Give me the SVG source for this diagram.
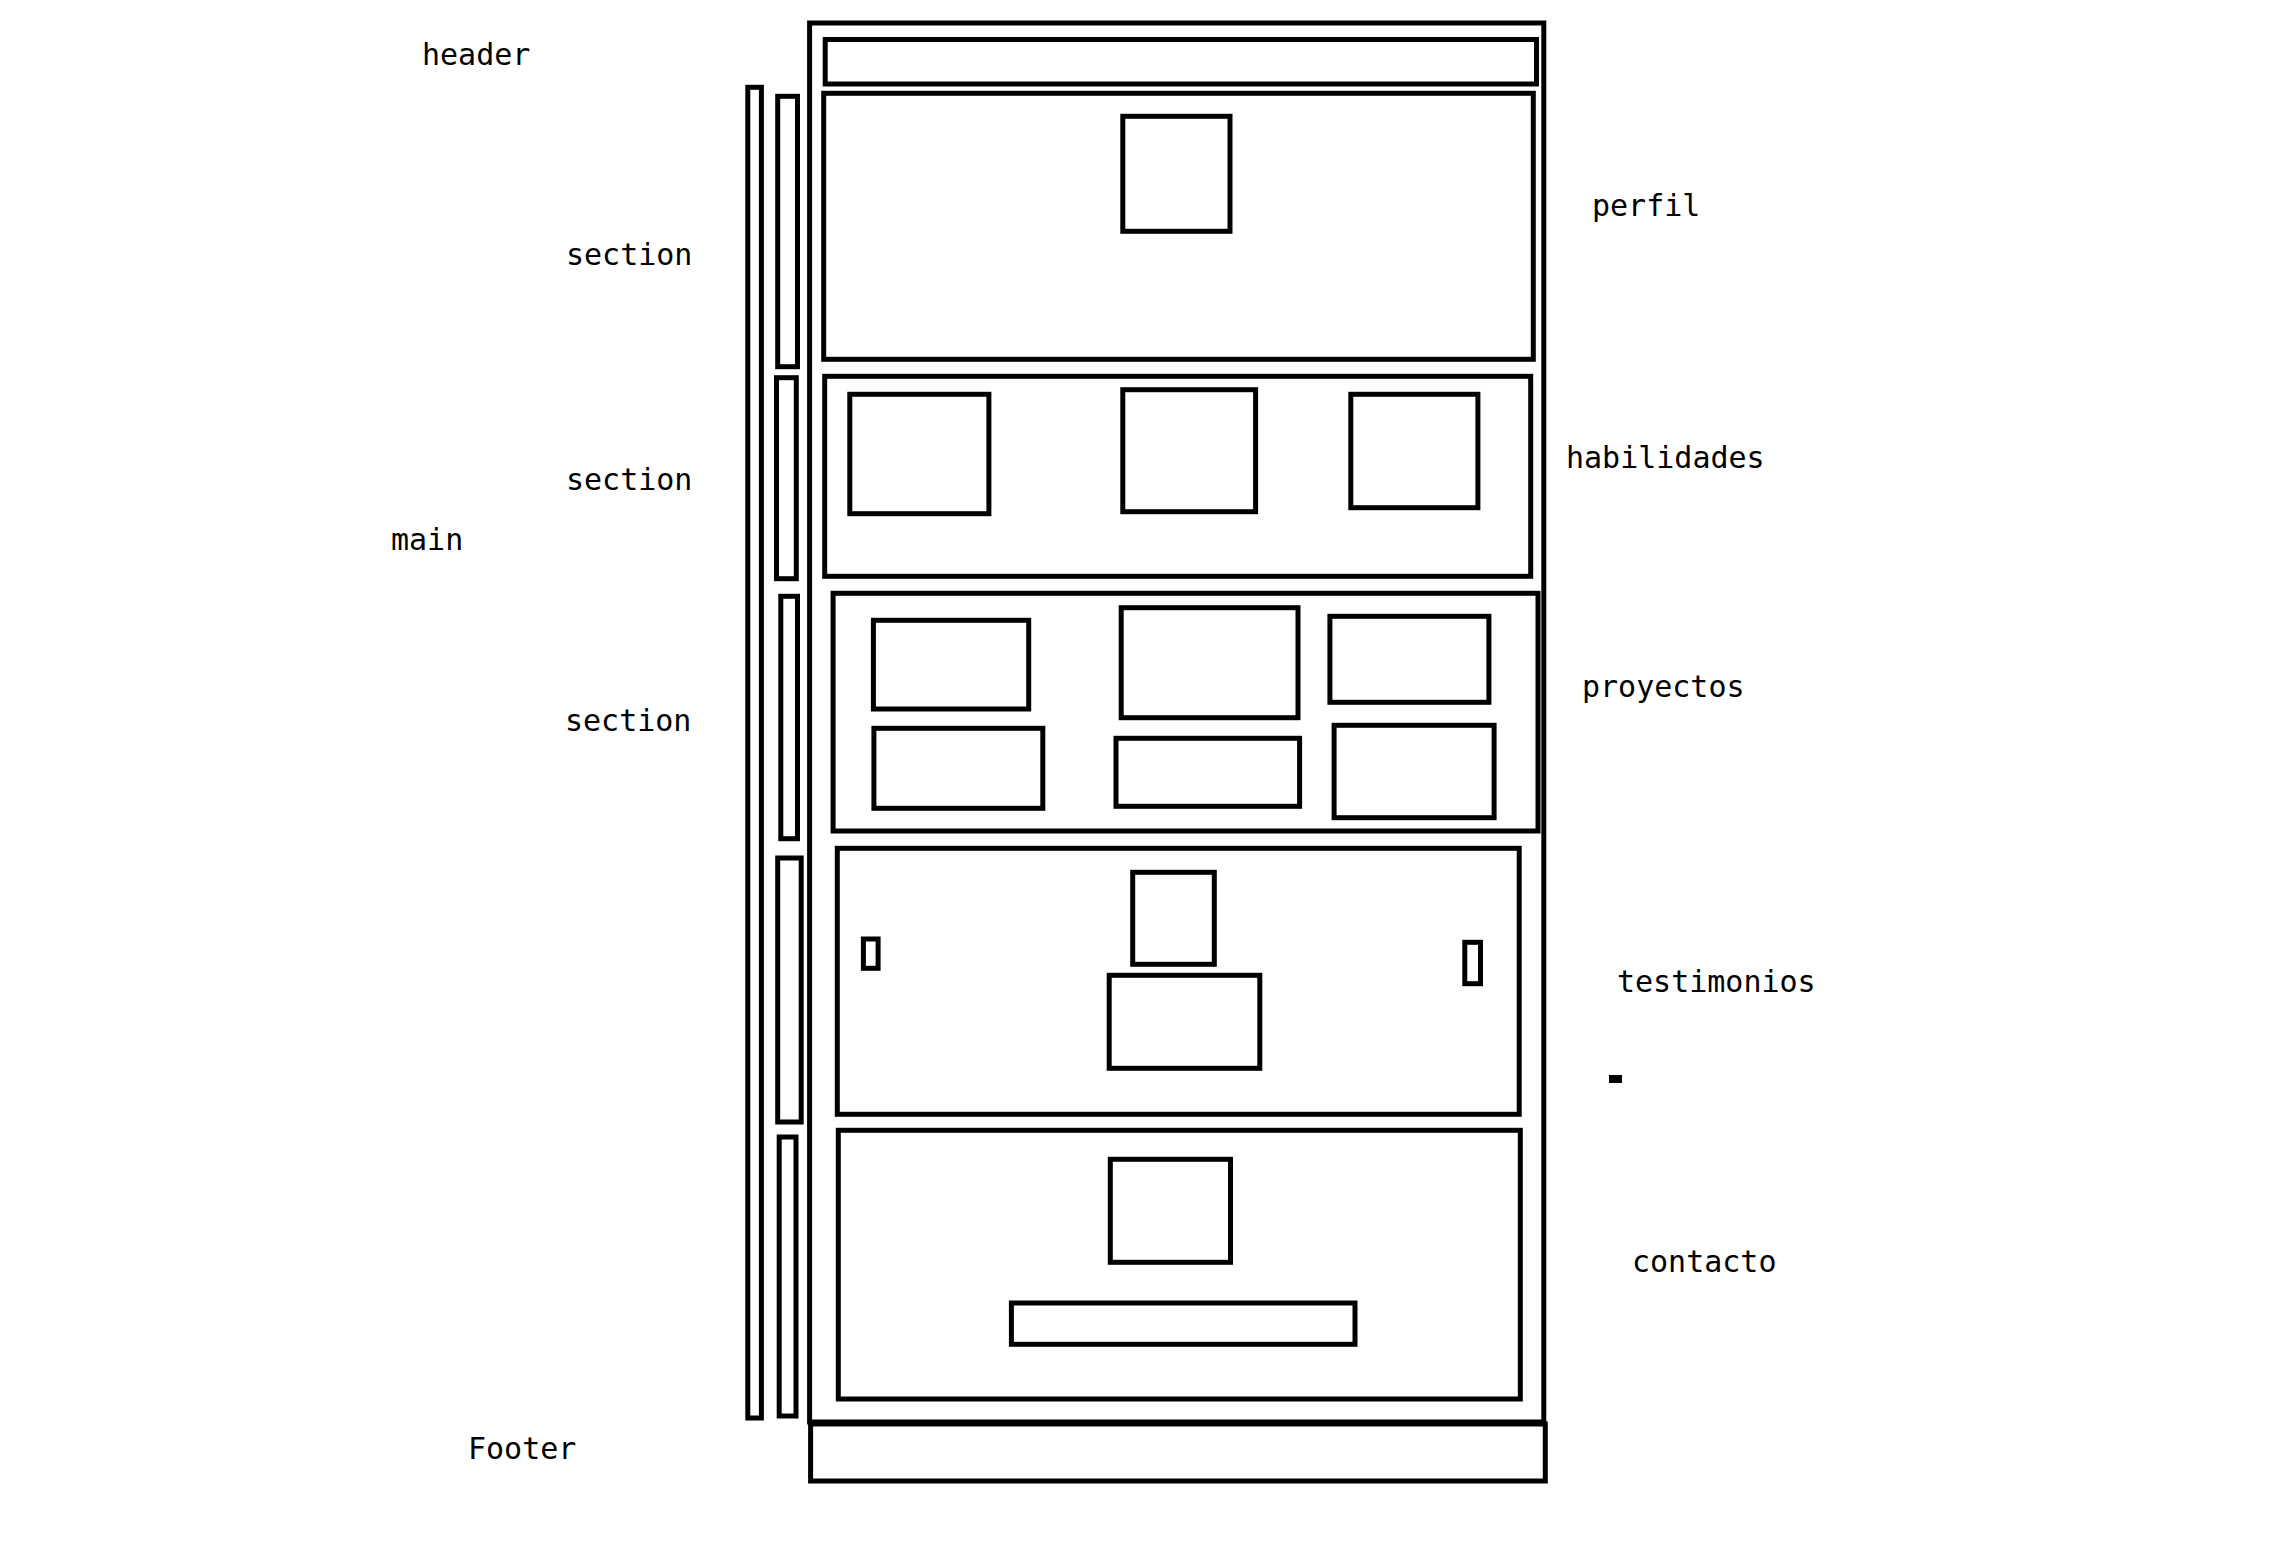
<svg xmlns="http://www.w3.org/2000/svg" width="2272" height="1544" viewBox="0 0 2272 1544">
<style>
.b{fill:none;stroke:#000;stroke-width:5}
.t{font-family:"DejaVu Sans Mono","Liberation Mono",monospace;font-size:30px;fill:#000}
</style>
<rect width="2272" height="1544" fill="#fff"/>
<g id="labels">
<text class="t" x="422" y="65">header</text>
<text class="t" x="566" y="265">section</text>
<text class="t" x="566" y="490">section</text>
<text class="t" x="391" y="550">main</text>
<text class="t" x="565" y="730.5">section</text>
<text class="t" x="468" y="1459">Footer</text>
<text class="t" x="1592" y="216">perfil</text>
<text class="t" x="1566" y="468">habilidades</text>
<text class="t" x="1582" y="697">proyectos</text>
<text class="t" x="1617" y="991.5">testimonios</text>
<text class="t" x="1632" y="1272">contacto</text>
</g>
<g id="brackets">
<rect class="b" x="747.8" y="87.3" width="13.6" height="1330.7"/>
<rect class="b" x="777.7" y="96.3" width="19.8" height="270.4"/>
<rect class="b" x="776.5" y="377.7" width="19.8" height="201"/>
<rect class="b" x="780.8" y="596.3" width="16.7" height="242.4"/>
<rect class="b" x="777.7" y="858" width="23.5" height="264"/>
<rect class="b" x="779.2" y="1137" width="16.8" height="279"/>
</g>
<g id="main">
<rect class="b" x="809.6" y="23" width="734.2" height="1399"/>
</g>
<g id="header">
<rect class="b" x="825.2" y="39.5" width="711.3" height="44.5"/>
</g>
<g id="perfil">
<rect class="b" x="823.7" y="93.3" width="709.6" height="266"/>
<rect class="b" x="1122.8" y="116.3" width="107.2" height="115"/>
</g>
<g id="habilidades">
<rect class="b" x="824.7" y="376.3" width="706" height="200"/>
<rect class="b" x="849.8" y="394.3" width="139.1" height="119.4"/>
<rect class="b" x="1122.8" y="389.7" width="132.8" height="122"/>
<rect class="b" x="1350.8" y="394.3" width="127.1" height="113.4"/>
</g>
<g id="proyectos">
<rect class="b" x="833.1" y="593.3" width="704.9" height="237.7"/>
<rect class="b" x="873.4" y="620.3" width="155.3" height="88.7"/>
<rect class="b" x="1121.2" y="607.7" width="176.8" height="110"/>
<rect class="b" x="1329.9" y="616.3" width="159" height="86"/>
<rect class="b" x="873.9" y="728.3" width="168.9" height="80"/>
<rect class="b" x="1116" y="738.3" width="183.6" height="68"/>
<rect class="b" x="1334.1" y="725.3" width="160" height="92.4"/>
</g>
<g id="testimonios">
<rect class="b" x="837.3" y="848.3" width="681.9" height="266"/>
<rect class="b" x="1132.7" y="872.3" width="81.6" height="92"/>
<rect class="b" x="1109.2" y="975.3" width="150.6" height="93"/>
<rect class="b" x="863.4" y="939" width="14.7" height="29.3"/>
<rect class="b" x="1464.8" y="942.3" width="15.7" height="41.4"/>
</g>
<g id="dash">
<rect x="1609" y="1075" width="13" height="8" fill="#000"/>
</g>
<g id="contacto">
<rect class="b" x="838.3" y="1130.3" width="682" height="268.7"/>
<rect class="b" x="1110.3" y="1159.3" width="120.2" height="103"/>
<rect class="b" x="1011.4" y="1303" width="343.6" height="41.3"/>
</g>
<g id="footer">
<rect class="b" x="810.6" y="1424" width="734.7" height="57"/>
</g>
<g id="connectors"></g>
</svg>
